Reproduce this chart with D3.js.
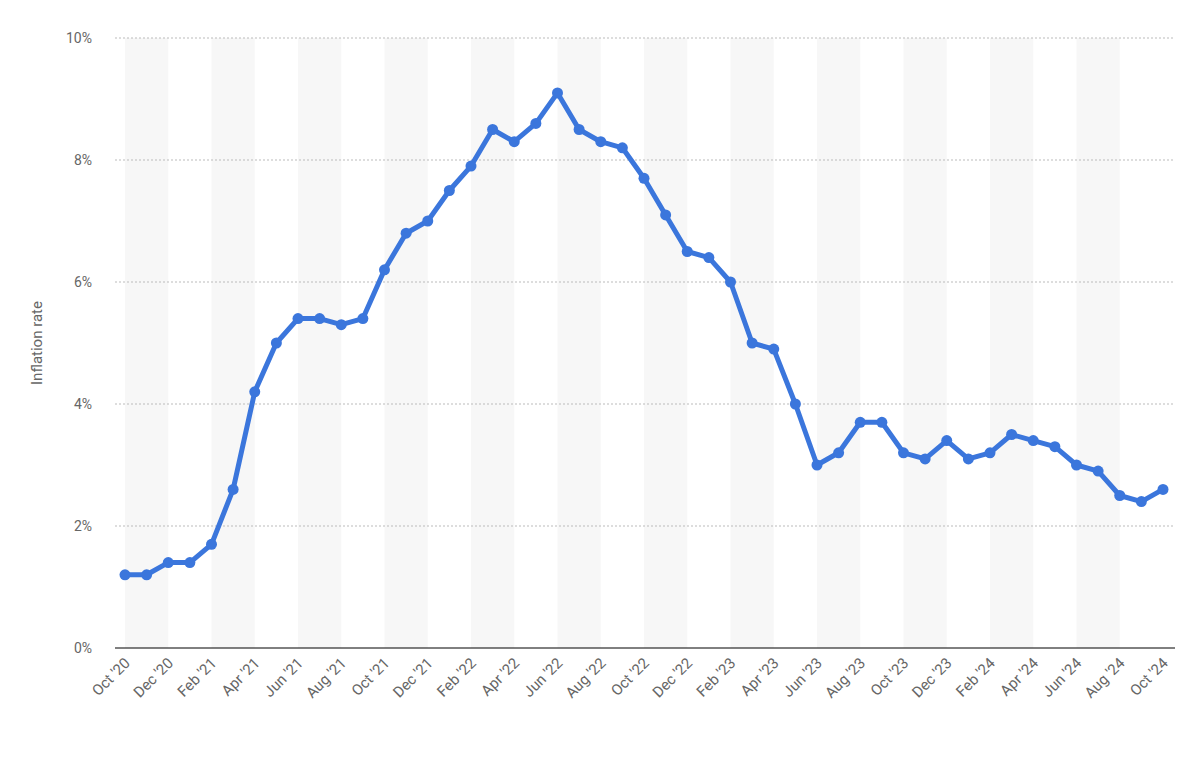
<!DOCTYPE html>
<html>
<head>
<meta charset="utf-8">
<script src="https://cdn.jsdelivr.net/npm/d3@7"></script>
<style>
body { margin: 0; background: #fff; font-family: Roboto, "Noto Sans", sans-serif; }
</style>
</head>
<body>
<div id="chart"></div>
<script>
var months = ["Oct '20","Nov '20","Dec '20","Jan '21","Feb '21","Mar '21","Apr '21","May '21","Jun '21","Jul '21","Aug '21","Sep '21",
  "Oct '21","Nov '21","Dec '21","Jan '22","Feb '22","Mar '22","Apr '22","May '22","Jun '22","Jul '22","Aug '22","Sep '22",
  "Oct '22","Nov '22","Dec '22","Jan '23","Feb '23","Mar '23","Apr '23","May '23","Jun '23","Jul '23","Aug '23","Sep '23",
  "Oct '23","Nov '23","Dec '23","Jan '24","Feb '24","Mar '24","Apr '24","May '24","Jun '24","Jul '24","Aug '24","Sep '24","Oct '24"];
var rates = [1.2,1.2,1.4,1.4,1.7,2.6,4.2,5.0,5.4,5.4,5.3,5.4,
  6.2,6.8,7.0,7.5,7.9,8.5,8.3,8.6,9.1,8.5,8.3,8.2,
  7.7,7.1,6.5,6.4,6.0,5.0,4.9,4.0,3.0,3.2,3.7,3.7,
  3.2,3.1,3.4,3.1,3.2,3.5,3.4,3.3,3.0,2.9,2.5,2.4,2.6];
var yTicks = [0,2,4,6,8,10];

var chart_width = 1200, chart_height = 765;
var plotLeft = 125, plotRight = 1163, plotTop = 38, plotBottom = 648;

var svg = d3.select('#chart').append('svg')
  .attr('width', chart_width).attr('height', chart_height);

var x = d3.scalePoint().domain(months).range([plotLeft, plotRight]);
var y = d3.scaleLinear().domain([0, 10]).range([plotBottom, plotTop]);

// alternating bands
var bandStarts = months.filter(function(d, i){ return i % 4 == 0 && i + 2 < months.length; });
svg.selectAll('rect.band').data(bandStarts).enter().append('rect')
  .attr('class', 'band')
  .attr('x', function(d){ return x(d); })
  .attr('y', plotTop)
  .attr('width', x.step() * 2)
  .attr('height', plotBottom - plotTop)
  .attr('fill', '#f7f7f7');

// grid
svg.selectAll('line.grid').data(yTicks.slice(1)).enter().append('line')
  .attr('x1', 115).attr('x2', 1175)
  .attr('y1', function(d){ return y(d); }).attr('y2', function(d){ return y(d); })
  .attr('stroke', '#bbb').attr('stroke-dasharray', '2,2');

svg.selectAll('text.ytick').data(yTicks).enter().append('text')
  .attr('x', 92).attr('y', function(d){ return y(d) + 5; })
  .attr('text-anchor', 'end').attr('font-size', 14).attr('fill', '#666')
  .text(function(d){ return d + '%'; });

svg.append('line').attr('x1', 115).attr('x2', 1175)
  .attr('y1', plotBottom).attr('y2', plotBottom).attr('stroke', '#000');

svg.append('text')
  .attr('transform', 'translate(42,' + ((plotTop + plotBottom) / 2) + ') rotate(-90)')
  .attr('text-anchor', 'middle').attr('font-size', 15).attr('fill', '#666')
  .text('Inflation rate');

// x labels
var xLabels = months.filter(function(d, i){ return i % 2 == 0; });
svg.selectAll('text.xtick').data(xLabels).enter().append('text')
  .attr('text-anchor', 'end').attr('font-size', 15).attr('fill', '#666')
  .attr('transform', function(d){ return 'translate(' + (x(d) + 6) + ',' + (plotBottom + 16) + ') rotate(-45)'; })
  .text(function(d){ return d; });

// line
var line = d3.line()
  .x(function(d, i){ return x(months[i]); })
  .y(function(d){ return y(d); });
svg.append('path').datum(rates)
  .attr('d', line).attr('fill', 'none')
  .attr('stroke', '#3b76dc').attr('stroke-width', 5).attr('stroke-linejoin', 'round');

svg.selectAll('circle').data(rates).enter().append('circle')
  .attr('cx', function(d, i){ return x(months[i]); })
  .attr('cy', function(d){ return y(d); })
  .attr('r', 5.5).attr('fill', '#3b76dc');
</script>
</body>
</html>
